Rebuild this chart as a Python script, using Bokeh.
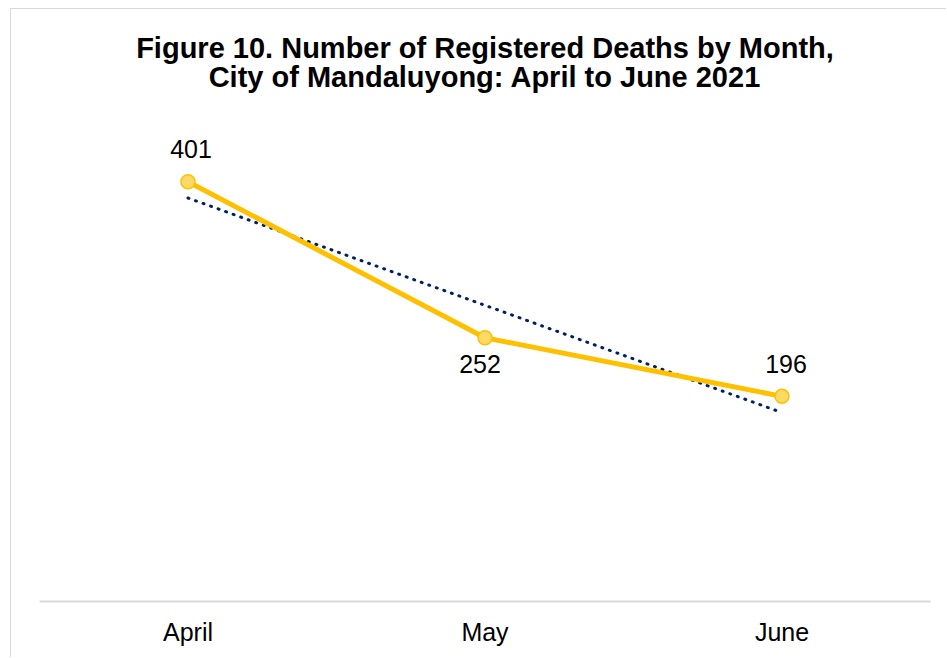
import numpy as np
from bokeh.plotting import figure
from bokeh.models import ColumnDataSource, LabelSet, Title, Range1d
from bokeh.core.properties import value
from bokeh.embed import file_html
from bokeh.resources import INLINE

# ---- data ----
months = ["April", "May", "June"]
deaths = [401, 252, 196]
title_lines = ["Figure 10. Number of Registered Deaths by Month,",
               "City of Mandaluyong: April to June 2021"]

# linear trend from data
xi = np.arange(1, len(deaths) + 1)
slope, intercept = np.polyfit(xi, deaths, 1)
trend = [float(slope * i + intercept) for i in xi]

label_dy = [24, -35, 23]
label_dx = [3, -5, 4]

src = ColumnDataSource(dict(m=months, v=deaths, t=trend,
                            lab=[str(d) for d in deaths],
                            dy=label_dy, dx=label_dx))

p = figure(x_range=months, y_range=Range1d(0, 450), width=936, height=649,
           output_backend="svg", toolbar_location=None,
           min_border_left=28, min_border_right=17,
           min_border_top=121, min_border_bottom=57)
p.styles = {"margin-left": "10px", "margin-top": "8px",
            "border-left": "1px solid #d9d9d9",
            "border-top": "1px solid #d9d9d9"}

title_standoffs = [-86, 76]
for line, so in reversed(list(zip(title_lines, title_standoffs))):
    p.add_layout(Title(text=line, text_font="Liberation Sans",
                       text_font_size="29px", text_font_style="bold",
                       align="center", text_color="#000000",
                       standoff=so), "above")

p.outline_line_color = None
p.grid.visible = False
p.yaxis.visible = False
p.xaxis.axis_line_color = "#d9d9d9"
p.xaxis.axis_line_width = 2
p.xaxis.major_tick_line_color = None
p.xaxis.minor_tick_line_color = None
p.xaxis.major_label_text_font = "Liberation Sans"
p.xaxis.major_label_text_font_size = "25px"
p.xaxis.major_label_text_color = "#000000"
p.xaxis.major_label_standoff = 10

p.line("m", "t", source=src, line_color="#002060", line_width=3,
       line_dash="1 7", line_cap="round")
p.line("m", "v", source=src, line_color="#FFC000", line_width=5)
p.scatter("m", "v", source=src, size=14, fill_color="#FFD966",
          line_color="#FFC000", line_width=1.5)

labels = LabelSet(x="m", y="v", text="lab", source=src,
                  x_offset="dx", y_offset="dy",
                  text_align="center", text_baseline="alphabetic",
                  text_font=value("Liberation Sans"), text_font_size="25px",
                  text_color="#000000")
p.add_layout(labels)

open("out.html", "w").write(file_html(p, INLINE))
